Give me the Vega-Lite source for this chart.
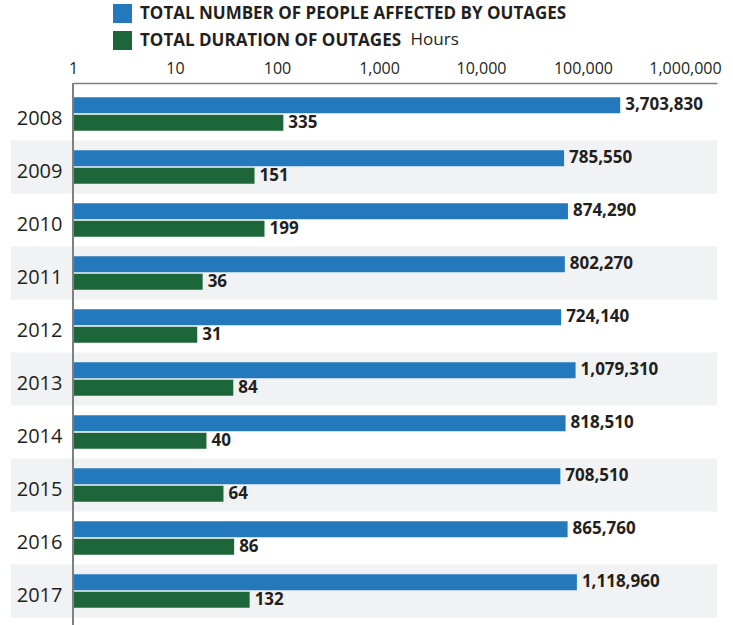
{
  "$schema": "https://vega.github.io/schema/vega-lite/v6.json",
  "width": 706,
  "height": 542,
  "autosize": "none",
  "padding": {"left": 11, "top": 83, "right": 16, "bottom": 0},
  "background": "white",
  "config": {"view": {"stroke": null}, "axis": {"grid": false}, "font": "Open Sans"},
  "data": {"values": [
    {"year": 2008, "series": "TOTAL NUMBER OF PEOPLE AFFECTED BY OUTAGES", "value": 3703830},
    {"year": 2008, "series": "TOTAL DURATION OF OUTAGES", "value": 335},
    {"year": 2009, "series": "TOTAL NUMBER OF PEOPLE AFFECTED BY OUTAGES", "value": 785550},
    {"year": 2009, "series": "TOTAL DURATION OF OUTAGES", "value": 151},
    {"year": 2010, "series": "TOTAL NUMBER OF PEOPLE AFFECTED BY OUTAGES", "value": 874290},
    {"year": 2010, "series": "TOTAL DURATION OF OUTAGES", "value": 199},
    {"year": 2011, "series": "TOTAL NUMBER OF PEOPLE AFFECTED BY OUTAGES", "value": 802270},
    {"year": 2011, "series": "TOTAL DURATION OF OUTAGES", "value": 36},
    {"year": 2012, "series": "TOTAL NUMBER OF PEOPLE AFFECTED BY OUTAGES", "value": 724140},
    {"year": 2012, "series": "TOTAL DURATION OF OUTAGES", "value": 31},
    {"year": 2013, "series": "TOTAL NUMBER OF PEOPLE AFFECTED BY OUTAGES", "value": 1079310},
    {"year": 2013, "series": "TOTAL DURATION OF OUTAGES", "value": 84},
    {"year": 2014, "series": "TOTAL NUMBER OF PEOPLE AFFECTED BY OUTAGES", "value": 818510},
    {"year": 2014, "series": "TOTAL DURATION OF OUTAGES", "value": 40},
    {"year": 2015, "series": "TOTAL NUMBER OF PEOPLE AFFECTED BY OUTAGES", "value": 708510},
    {"year": 2015, "series": "TOTAL DURATION OF OUTAGES", "value": 64},
    {"year": 2016, "series": "TOTAL NUMBER OF PEOPLE AFFECTED BY OUTAGES", "value": 865760},
    {"year": 2016, "series": "TOTAL DURATION OF OUTAGES", "value": 86},
    {"year": 2017, "series": "TOTAL NUMBER OF PEOPLE AFFECTED BY OUTAGES", "value": 1118960},
    {"year": 2017, "series": "TOTAL DURATION OF OUTAGES", "value": 132}
  ]},
  "layer": [
    {
      "layer": [
        {
          "transform": [{"filter": "datum.year % 2 == 1 && datum.series == 'TOTAL DURATION OF OUTAGES'"}],
          "mark": {"type": "bar", "color": "#f1f2f4", "size": 56},
          "encoding": {
            "y": {"field": "year", "type": "ordinal",
              "scale": {"type": "band", "range": [4.5, 534.5], "paddingInner": 0, "paddingOuter": 0},
              "axis": {"orient": "left", "title": null, "domain": false, "ticks": false, "tickSize": 0, "offset": -51, "labelPadding": 0, "labelOffset": 5, "labelAlign": "right", "labelBaseline": "middle", "labelFont": "Open Sans", "labelFontSize": 20, "labelColor": "#231f20", "zindex": 1}}
          }
        },
        {
          "mark": {"type": "bar"},
          "encoding": {
            "y": {"field": "year", "type": "ordinal",
              "scale": {"type": "band", "range": [4.5, 534.5], "paddingInner": 0, "paddingOuter": 0},
              "axis": {"orient": "left", "title": null, "domain": false, "ticks": false, "tickSize": 0, "offset": -51, "labelPadding": 0, "labelOffset": 5, "labelAlign": "right", "labelBaseline": "middle", "labelFont": "Open Sans", "labelFontSize": 20, "labelColor": "#231f20", "zindex": 1}},
            "yOffset": {"field": "series", "type": "nominal",
              "sort": ["TOTAL NUMBER OF PEOPLE AFFECTED BY OUTAGES", "TOTAL DURATION OF OUTAGES"],
              "scale": {"paddingInner": 0.08, "paddingOuter": 0.56}},
            "x": {"field": "value", "type": "quantitative",
              "scale": {"type": "log", "domain": [1, 53800000], "range": [62, 706], "nice": false},
              "axis": {"orient": "bottom", "labels": false, "ticks": false, "domain": false, "grid": false, "title": "Hours", "titleX": 399, "titleY": -581, "titleAlign": "left", "titleBaseline": "alphabetic", "titleFont": "Open Sans", "titleFontSize": 17, "titleFontWeight": "normal", "titleColor": "#231f20"}},
            "x2": {"datum": 1},
            "color": {"field": "series", "type": "nominal",
              "scale": {"domain": ["TOTAL NUMBER OF PEOPLE AFFECTED BY OUTAGES", "TOTAL DURATION OF OUTAGES"], "range": ["#2479bd", "#1c6639"]},
              "legend": {"orient": "none", "legendX": 102, "legendY": -79, "title": null, "symbolType": "square", "symbolSize": 361, "symbolStrokeWidth": 0, "symbolOpacity": 1, "labelFont": "Open Sans", "labelFontSize": 17, "labelFontWeight": "bold", "labelColor": "#231f20", "labelLimit": 0, "rowPadding": 8, "labelOffset": 8}}
          }
        },
        {
          "mark": {"type": "text", "align": "left", "baseline": "middle", "dx": 5, "font": "Open Sans", "fontSize": 17, "fontWeight": "bold", "color": "#231f20"},
          "encoding": {
            "y": {"field": "year", "type": "ordinal",
              "scale": {"type": "band", "range": [4.5, 534.5], "paddingInner": 0, "paddingOuter": 0},
              "axis": {"orient": "left", "title": null, "domain": false, "ticks": false, "tickSize": 0, "offset": -51, "labelPadding": 0, "labelOffset": 5, "labelAlign": "right", "labelBaseline": "middle", "labelFont": "Open Sans", "labelFontSize": 20, "labelColor": "#231f20", "zindex": 1}},
            "yOffset": {"field": "series", "type": "nominal",
              "sort": ["TOTAL NUMBER OF PEOPLE AFFECTED BY OUTAGES", "TOTAL DURATION OF OUTAGES"],
              "scale": {"paddingInner": 0.08, "paddingOuter": 0.56}},
            "x": {"field": "value", "type": "quantitative",
              "scale": {"type": "log", "domain": [1, 53800000], "range": [62, 706], "nice": false},
              "axis": {"orient": "bottom", "labels": false, "ticks": false, "domain": false, "grid": false, "title": "Hours", "titleX": 399, "titleY": -581, "titleAlign": "left", "titleBaseline": "alphabetic", "titleFont": "Open Sans", "titleFontSize": 17, "titleFontWeight": "normal", "titleColor": "#231f20"}},
            "text": {"field": "value", "type": "quantitative", "format": ","}
          }
        }
      ]
    },
    {
      "mark": {"type": "rule", "color": "#808080", "strokeWidth": 1.5},
      "encoding": {
        "x": {"datum": 1, "type": "quantitative",
          "scale": {"type": "log", "domain": [1, 2060000], "range": [62, 706], "nice": false},
          "axis": {"orient": "top", "values": [1, 10, 100, 1000, 10000, 100000, 1000000], "format": ",", "title": null, "grid": false, "ticks": false, "domainColor": "#808080", "domainWidth": 1.5, "labelPadding": 7, "labelFont": "Open Sans", "labelFontSize": 16, "labelColor": "#231f20", "labelFlush": false, "labelOverlap": false}}
      }
    }
  ],
  "resolve": {"scale": {"x": "independent"}, "axis": {"x": "independent"}}
}
